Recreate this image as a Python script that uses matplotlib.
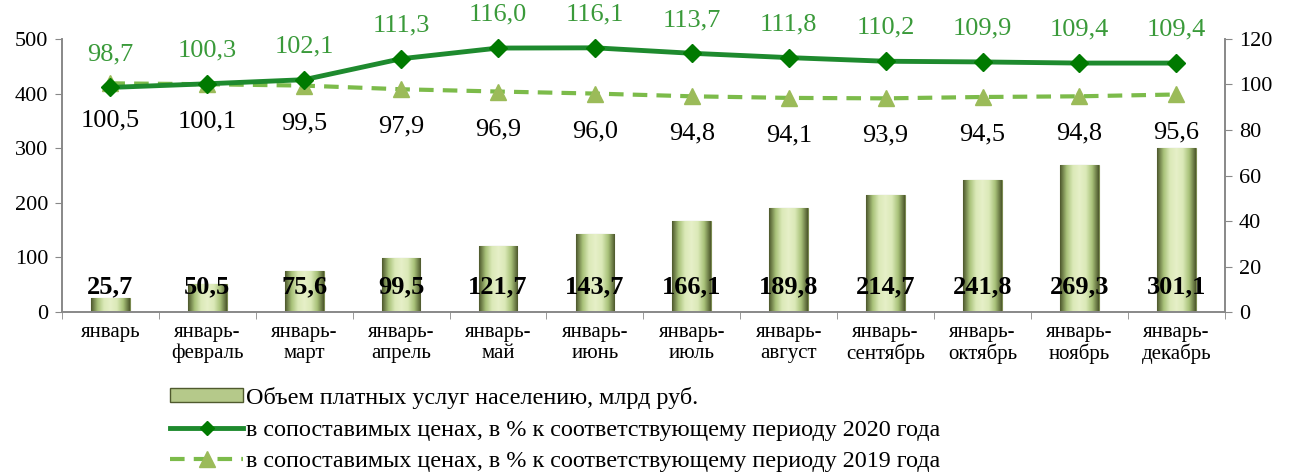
import numpy as np
import matplotlib.pyplot as plt
from matplotlib.colors import LinearSegmentedColormap
from matplotlib.lines import Line2D
from matplotlib.patches import Patch

plt.rcParams['font.family'] = ['Liberation Serif', 'DejaVu Serif']

months = ['январь', 'январь-\nфевраль', 'январь-\nмарт', 'январь-\nапрель', 'январь-\nмай',
          'январь-\nиюнь', 'январь-\nиюль', 'январь-\nавгуст', 'январь-\nсентябрь',
          'январь-\nоктябрь', 'январь-\nноябрь', 'январь-\nдекабрь']
volume = [25.7, 50.5, 75.6, 99.5, 121.7, 143.7, 166.1, 189.8, 214.7, 241.8, 269.3, 301.1]
idx_2020 = [98.7, 100.3, 102.1, 111.3, 116.0, 116.1, 113.7, 111.8, 110.2, 109.9, 109.4, 109.4]
idx_2019 = [100.5, 100.1, 99.5, 97.9, 96.9, 96.0, 94.8, 94.1, 93.9, 94.5, 94.8, 95.6]

lbl_bar = 'Объем платных услуг населению, млрд руб.'
lbl_2020 = 'в сопоставимых ценах, в % к соответствующему периоду 2020 года'
lbl_2019 = 'в сопоставимых ценах, в % к соответствующему периоду 2019 года'

def fmt(v):
    return f'{v:.1f}'.replace('.', ',')

fig = plt.figure(figsize=(12.9, 4.75), dpi=100)
ax = fig.add_axes([0.048, 0.343, 0.9015, 0.575])
ax2 = ax.twinx()

x = np.arange(len(months))
bars = ax.bar(x, volume, width=0.4, color='#cfe0a8', edgecolor='#7a8a50', linewidth=0.8, zorder=2)

# объёмная заливка столбиков
cmap = LinearSegmentedColormap.from_list('bev', ['#4f5a2e', '#a9c27a', '#dbe9b8', '#e6f0c8', '#dbe9b8', '#a9c27a', '#4f5a2e'])
grad = np.linspace(0, 1, 64).reshape(1, -1)
for b in bars:
    bx, by = b.get_x(), b.get_y()
    w, h = b.get_width(), b.get_height()
    im = ax.imshow(grad, cmap=cmap, aspect='auto', extent=[bx, bx + w, by, by + h], zorder=2.1)
    im.set_clip_path(b)

for i, v in enumerate(volume):
    ax.text(i, 46, fmt(v), ha='center', va='center', fontsize=19, fontweight='bold', zorder=5)

ax.set_xlim(-0.5, len(months) - 0.5)
ax.set_ylim(0, 500)
ax.set_yticks(range(0, 501, 100))
ax.set_xticks(x)
ax.set_xticklabels(months, fontsize=15, linespacing=1.1)
ax.set_xticks(np.arange(-0.5, len(months), 1), minor=True)
ax.tick_params(axis='x', which='major', length=0, pad=8)
ax.tick_params(axis='x', which='minor', length=5, color='#888888', direction='out')
ax.tick_params(axis='y', labelsize=16, length=5, color='#888888', pad=5)

ax2.plot(x, idx_2020, color='#1e8a2e', lw=3.5, marker='D', markersize=9, markerfacecolor='#007a00',
         markeredgecolor='#007a00', zorder=4)
ax2.plot(x, idx_2019, color='#7cbb4a', lw=3, ls=(0, (3.5, 2.2)), marker='^', markersize=12,
         markerfacecolor='#9bbb59', markeredgecolor='#9bbb59', zorder=3)
ax2.set_ylim(0, 120)
ax2.set_yticks(range(0, 121, 20))
ax2.tick_params(axis='y', labelsize=16, length=5, color='#888888', pad=5)

for i, v in enumerate(idx_2020):
    ax2.annotate(fmt(v), (i, v), xytext=(0, 24), textcoords='offset points', ha='center', va='center',
                 fontsize=19, color='#3a9a3a')
for i, v in enumerate(idx_2019):
    ax2.annotate(fmt(v), (i, v), xytext=(0, -27), textcoords='offset points', ha='center', va='center',
                 fontsize=19, color='black')

for a in (ax, ax2):
    a.spines['top'].set_visible(False)
    for s in ('left', 'right', 'bottom'):
        a.spines[s].set_color('#888888')
        a.spines[s].set_linewidth(1.2)
ax.set_zorder(ax2.get_zorder() - 1)
ax2.patch.set_visible(False)
ax.patch.set_visible(False)

handles = [
    Patch(facecolor='#b5c98a', edgecolor='#4f5a2e', label=lbl_bar),
    Line2D([], [], color='#1e8a2e', lw=3.5, marker='D', markersize=7, markerfacecolor='#007a00',
           markeredgecolor='#007a00', label=lbl_2020),
    Line2D([], [], color='#7cbb4a', lw=3, ls=(0, (3.5, 2.2)), marker='^', markersize=12,
           markerfacecolor='#9bbb59', markeredgecolor='#9bbb59', label=lbl_2019),
]
fig.legend(handles=handles, loc='upper left', bbox_to_anchor=(0.132, 0.186), frameon=False,
           fontsize=17.4, handlelength=3.0, handleheight=0.55, handletextpad=0.15, labelspacing=0.45,
           borderaxespad=0, borderpad=0)

fig.savefig('out.png', dpi=100)
